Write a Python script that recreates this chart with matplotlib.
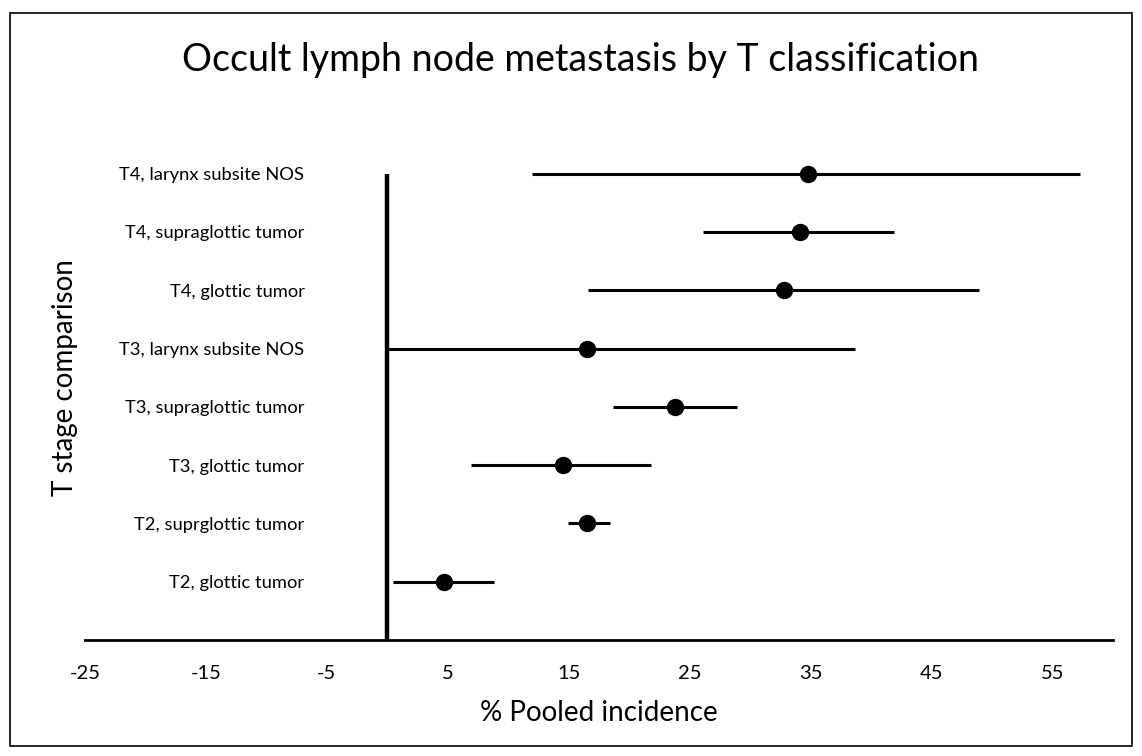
import matplotlib
matplotlib.use('Agg')
import matplotlib.pyplot as plt
from matplotlib.patches import Rectangle

plt.rcParams['font.family'] = ['Lato', 'DejaVu Sans']

# rows listed bottom to top
labels = ['T2, glottic tumor', 'T2, suprglottic tumor', 'T3, glottic tumor',
          'T3, supraglottic tumor', 'T3, larynx subsite NOS', 'T4, glottic tumor',
          'T4, supraglottic tumor', 'T4, larynx subsite NOS']
estimate = [4.7, 16.5, 14.5, 23.8, 16.5, 32.8, 34.1, 34.8]
lower = [0.5, 14.9, 6.9, 18.7, 0.0, 16.6, 26.1, 12.0]
upper = [8.8, 18.4, 21.8, 28.9, 38.7, 48.9, 41.9, 57.3]
xticks = [-25, -15, -5, 5, 15, 25, 35, 45, 55]

fig = plt.figure(figsize=(11.42, 7.56), dpi=100)
fig.patches.append(Rectangle((10 / 1142, 10 / 756), 1122 / 1142, 733 / 756,
                             transform=fig.transFigure, fill=False,
                             edgecolor='black', linewidth=1.2))
ax = fig.add_axes([0.0744, 0.1534, 0.9002, 0.6554])

pos = list(range(1, len(labels) + 1))
ax.hlines(pos, lower, upper, color='black', linewidth=2.2)
ax.plot(estimate, pos, 'o', color='black', markersize=11.5)
ax.vlines(0, 0, len(labels), color='black', linewidth=3.2)

ax.set_xlim(-25, 60)
ax.set_ylim(0, 8.5)
ax.set_xticks(xticks)
ax.set_xticklabels([str(t) for t in xticks], fontsize=14.5)
ax.set_yticks(pos)
ax.set_yticklabels(labels, fontsize=13.2)
ax.tick_params(axis='x', length=0, pad=18)
ax.tick_params(axis='y', length=0, pad=-158)

for s in ['top', 'right', 'left']:
    ax.spines[s].set_visible(False)
ax.spines['bottom'].set_linewidth(2)

ax.set_xlabel('% Pooled incidence', fontsize=20, labelpad=13)
fig.text(0.057, 0.5, 'T stage comparison', rotation=90, fontsize=20,
         ha='center', va='center')
fig.text(0.508, 0.920, 'Occult lymph node metastasis by T classification',
         fontsize=27, ha='center', va='center')

fig.savefig('out.png', dpi=100)
